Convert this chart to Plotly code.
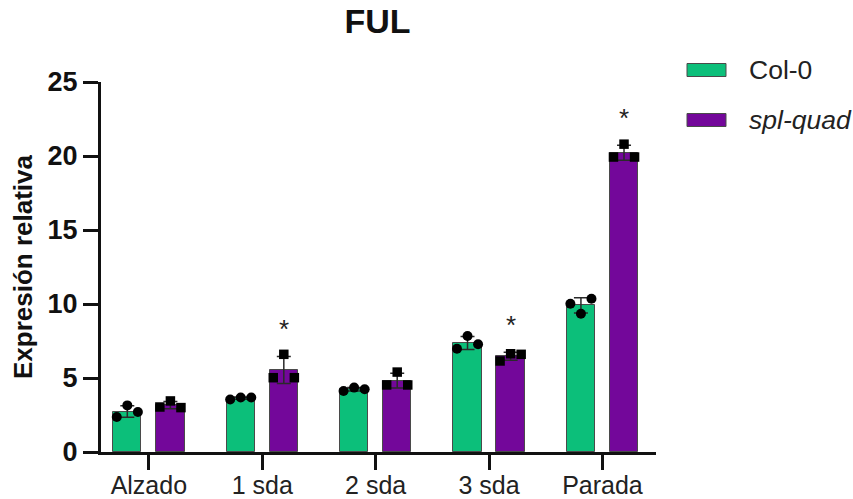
import numpy as np
import plotly.graph_objects as go

# Stages on the x axis
categories = ["Alzado", "1 sda", "2 sda", "3 sda", "Parada"]

# Relative expression of FUL, three biological replicates per stage
col0_reps = [
    [2.36, 3.15, 2.70],
    [3.55, 3.68, 3.68],
    [4.12, 4.35, 4.24],
    [6.98, 7.84, 7.28],
    [10.02, 9.34, 10.36],
]
splquad_reps = [
    [3.04, 3.45, 3.00],
    [5.02, 6.60, 5.02],
    [4.53, 5.40, 4.53],
    [6.15, 6.64, 6.60],
    [19.93, 20.80, 19.93],
]

# Stages with a significant difference (marked with *)
significant = [False, True, False, True, True]

y_ticks = [0, 5, 10, 15, 20, 25]

GREEN = "#0cbf7a"
PURPLE = "#73079a"
EDGE = "#4a4a4a"
FONT = "Liberation Sans, Arial, sans-serif"

W, H = 853, 499
L, R, T, B = 101, 197, 82, 47
BAR_W = 0.25
OFFSET = 0.19
JITTER = np.array([-0.093, 0.0, 0.093])

idx = np.arange(len(categories))
col0 = np.array(col0_reps)
spl = np.array(splquad_reps)
col0_mean, col0_sd = col0.mean(axis=1), col0.std(axis=1, ddof=1)
spl_mean, spl_sd = spl.mean(axis=1), spl.std(axis=1, ddof=1)

fig = go.Figure()

err_style = dict(type="data", visible=True, color="#2a2a2a", thickness=1.5, width=7)

fig.add_trace(go.Bar(
    x=idx - OFFSET, y=col0_mean, width=BAR_W, name="Col-0",
    marker=dict(color=GREEN, line=dict(color=EDGE, width=1)),
    error_y=dict(array=col0_sd, **err_style), showlegend=False,
))
fig.add_trace(go.Bar(
    x=idx + OFFSET, y=spl_mean, width=BAR_W, name="spl-quad",
    marker=dict(color=PURPLE, line=dict(color=EDGE, width=1)),
    error_y=dict(array=spl_sd, **err_style), showlegend=False,
))

# Individual replicates
px0, py0, px1, py1 = [], [], [], []
for i in idx:
    px0 += list(i - OFFSET + JITTER)
    py0 += list(col0[i])
    px1 += list(i + OFFSET + JITTER)
    py1 += list(spl[i])

fig.add_trace(go.Scatter(
    x=px0, y=py0, mode="markers", showlegend=False,
    marker=dict(symbol="circle", size=10, color="black"),
))
fig.add_trace(go.Scatter(
    x=px1, y=py1, mode="markers", showlegend=False,
    marker=dict(symbol="square", size=9.5, color="black"),
))

# Significance stars
for i in idx:
    if significant[i]:
        fig.add_annotation(
            x=i + OFFSET, y=spl_mean[i] + spl_sd[i], text="*",
            showarrow=False, yanchor="bottom", yshift=10,
            font=dict(family=FONT, size=26, color="#222"),
        )

# Legend drawn as swatches and labels
pw, ph = W - L - R, H - T - B


def paper_x(px):
    return (px - L) / pw


def paper_y(py):
    return (H - B - py) / ph


legend_items = [("Col-0", GREEN, 70), ("<i>spl-quad</i>", PURPLE, 120)]
for label, color, cy in legend_items:
    fig.add_shape(
        type="rect", xref="paper", yref="paper",
        x0=paper_x(687), x1=paper_x(726),
        y0=paper_y(cy + 6.5), y1=paper_y(cy - 6.5),
        fillcolor=color, line=dict(color=EDGE, width=1),
    )
    fig.add_annotation(
        xref="paper", yref="paper", x=paper_x(747), y=paper_y(cy),
        xanchor="left", yanchor="middle", text=label, showarrow=False,
        font=dict(family=FONT, size=26.5, color="#222"),
    )

fig.update_layout(
    width=W, height=H,
    margin=dict(l=L, r=R, t=T, b=B, pad=0, autoexpand=False),
    paper_bgcolor="white", plot_bgcolor="white",
    barmode="overlay", bargap=0,
    title=dict(
        text="<b>FUL</b>", x=paper_x(377.5), xref="paper", xanchor="center",
        y=1 - 21 / H, yref="container", yanchor="middle",
        font=dict(family=FONT, size=34, color="#111"),
    ),
    font=dict(family=FONT, color="#111"),
)

fig.update_xaxes(
    range=[-0.422, 4.472], tickvals=idx, ticktext=categories,
    showline=True, linewidth=3, linecolor="#111",
    ticks="outside", ticklen=15, tickwidth=3, tickcolor="#111",
    ticklabelstandoff=-6,
    tickfont=dict(family=FONT, size=25, color="#222"),
    showgrid=False, zeroline=False, automargin=False,
)
fig.update_yaxes(
    range=[0, 25], tickvals=y_ticks,
    showline=True, linewidth=3, linecolor="#111",
    ticks="outside", ticklen=15, tickwidth=3, tickcolor="#111",
    tickfont=dict(family=FONT, size=27, color="#111", weight="bold"),
    title=dict(text="<b>Expresión relativa</b>", standoff=8,
               font=dict(family=FONT, size=26, color="#111")),
    showgrid=False, zeroline=False, automargin=False,
)

fig.write_html("out.html")
